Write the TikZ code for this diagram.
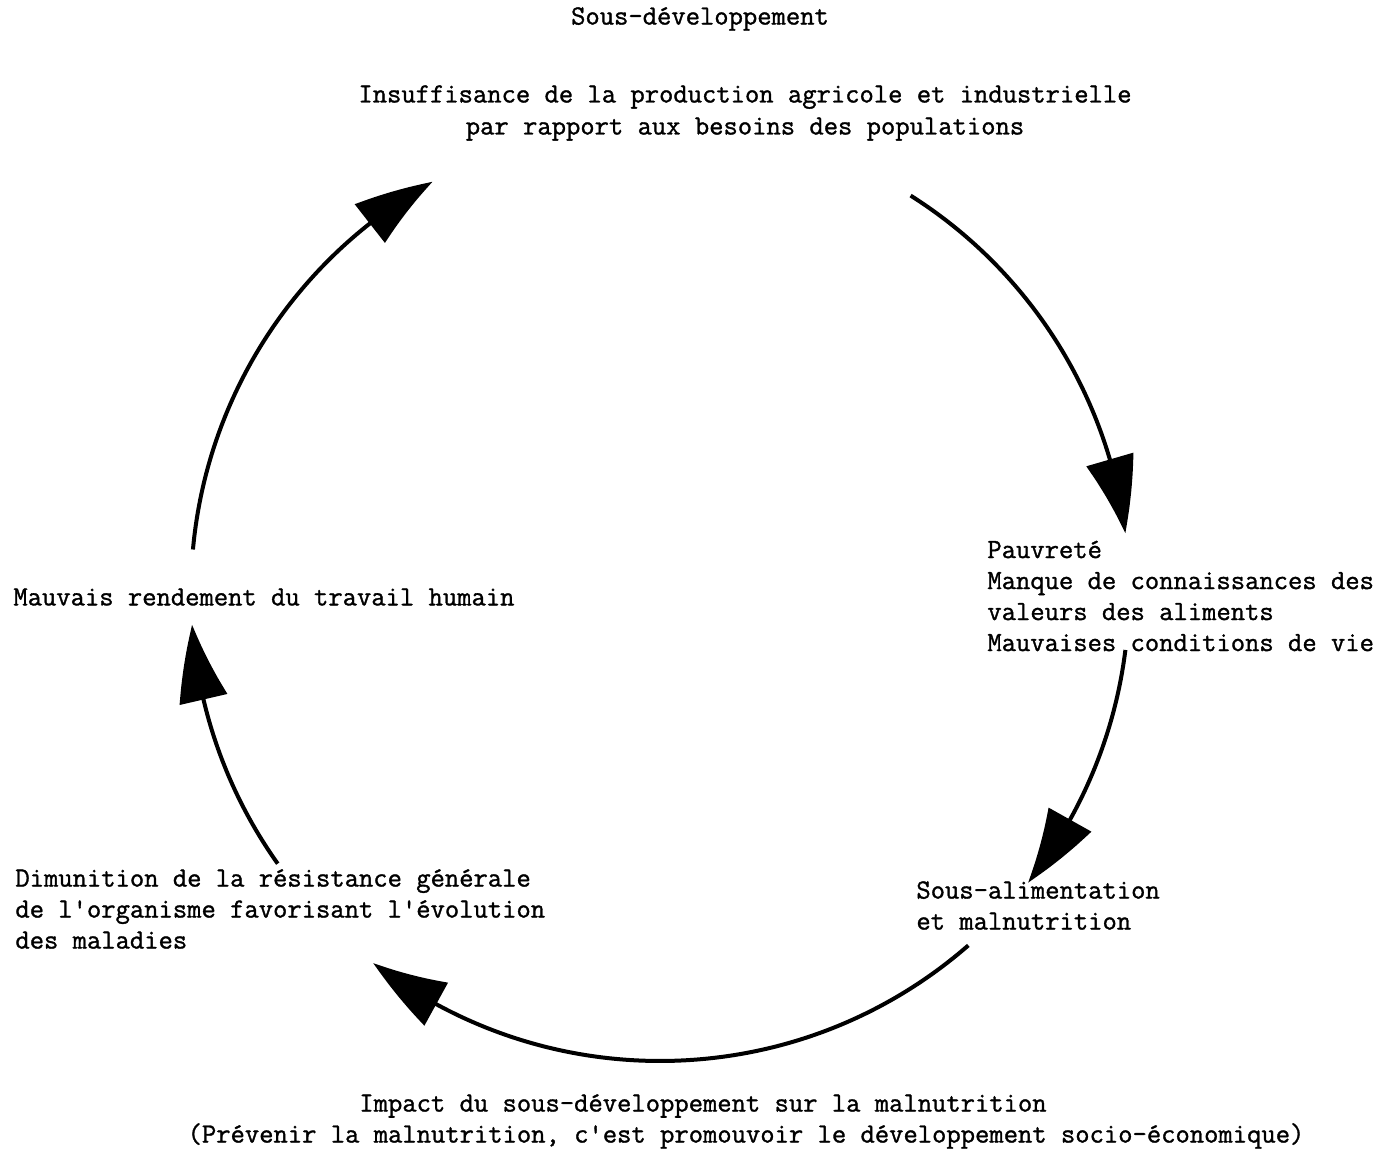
\documentclass[tikz,border=0pt]{standalone}
\usepackage{fontspec}
\usetikzlibrary{arrows.meta,bending}
\newfontfamily\typewriter[FakeBold=1.2]{Latin Modern Mono}
\begin{document}
\begin{tikzpicture}[x=0.5pt,y=0.5pt,
  lbl/.style={font=\typewriter\fontsize{13.9}{15.5}\selectfont,inner sep=0pt},
  cyc/.style={line width=2pt,-{Triangle[length=38pt,width=24pt,bend]}}]
  \useasboundingbox (0,0) rectangle (1386,1152);
  % centre of the cycle
  \coordinate (o) at (660,560);
  \def\R{469}

  % labels
  \node[lbl] (title) at (700,1133) {Sous-développement};
  \node[lbl,align=center,font=\typewriter\fontsize{13.9}{16}\selectfont] (prod) at (745,1039)
    {Insuffisance de la production agricole et industrielle\\par rapport aux besoins des populations};
  \node[lbl,align=left,anchor=west] (pauv) at (987,556)
    {Pauvreté\\Manque de connaissances des\\valeurs des aliments\\Mauvaises conditions de vie};
  \node[lbl,align=left,anchor=west] (sous) at (916,246.5)
    {Sous-alimentation\\et malnutrition};
  \node[lbl,align=left,anchor=west] (dimin) at (15,243)
    {Dimunition de la résistance générale\\de l'organisme favorisant l'évolution\\des maladies};
  \node[lbl,anchor=west] (rend) at (13,555) {Mauvais rendement du travail humain};
  \node[lbl] (imp1) at (703,46) {Impact du sous-développement sur la malnutrition};
  \node[lbl] (imp2) at (746,16) {(Prévenir la malnutrition, c'est promouvoir le développement socio-économique)};

  % the cycle of arrows
  \draw[cyc] (o) ++(57.7:\R) arc[start angle=57.7,end angle=7.2,radius=\R];
  \draw[cyc] (o) ++(-7.1:\R) arc[start angle=-7.1,end angle=-38.3,radius=\R];
  \draw[cyc] (o) ++(-48.9:\R) arc[start angle=-48.9,end angle=-127.7,radius=\R];
  \draw[cyc] (o) ++(215.4:\R) arc[start angle=215.4,end angle=184,radius=\R];
  \draw[cyc] (o) ++(174.8:\R) arc[start angle=174.8,end angle=119,radius=\R];
\end{tikzpicture}
\end{document}
